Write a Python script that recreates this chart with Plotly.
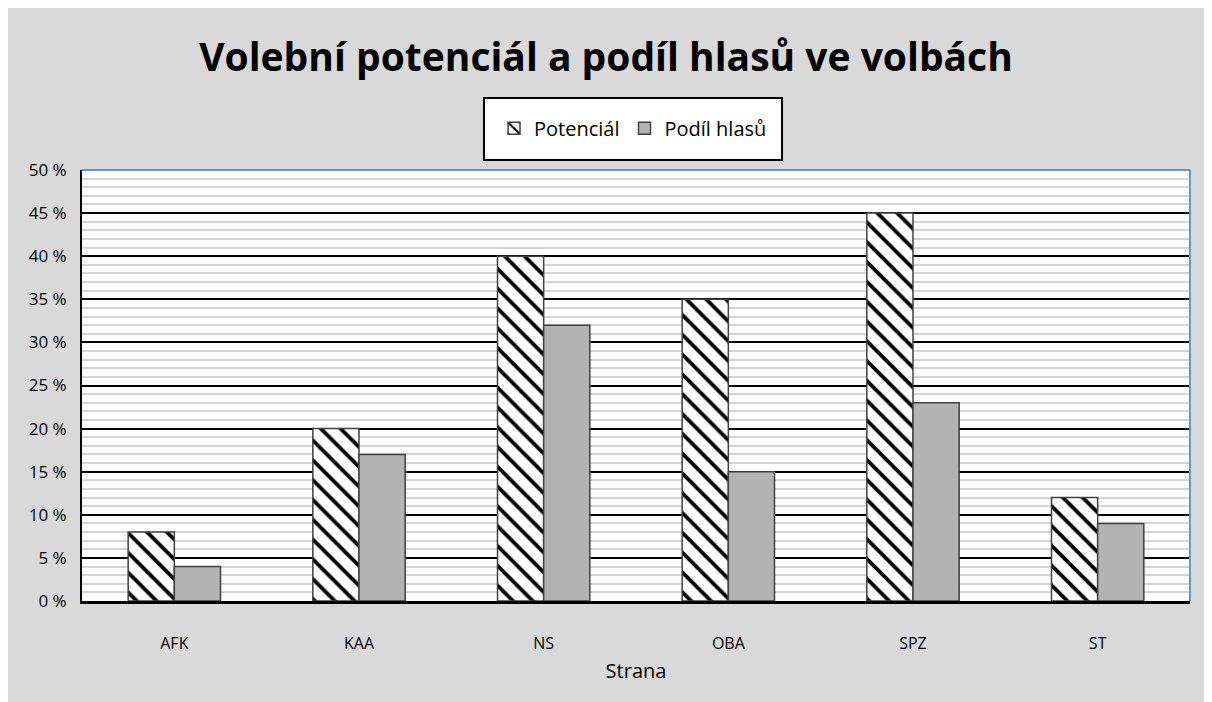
import plotly.graph_objects as go

categories = ["AFK", "KAA", "NS", "OBA", "SPZ", "ST"]
potencial = [8, 20, 40, 35, 45, 12]
podil = [4, 17, 32, 15, 23, 9]
y_ticks = [0, 5, 10, 15, 20, 25, 30, 35, 40, 45, 50]
y_labels = [f"{v} %" for v in y_ticks]

fig = go.Figure()
fig.add_trace(go.Bar(
    x=categories, y=potencial, name="Potenciál",
    marker=dict(color="white", line=dict(color="#404040", width=1.5),
                pattern=dict(shape="\\", fgcolor="black", bgcolor="white", fgopacity=1,
                             size=14, solidity=0.27)),
))
fig.add_trace(go.Bar(
    x=categories, y=podil, name="Podíl hlasů",
    marker=dict(color="#b3b3b3", line=dict(color="#404040", width=1.5)),
))

fig.update_layout(
    width=1212, height=702,
    paper_bgcolor="#d9d9d9",
    plot_bgcolor="white",
    barmode="group", bargap=0.5, bargroupgap=0,
    margin=dict(l=74, r=30, t=162, b=109),
    title=dict(text="<b>Volební potenciál a podíl hlasů ve volbách</b>",
               xref="container", x=598 / 1212, xanchor="center", y=1 - 49 / 702, yanchor="middle",
               font=dict(family="Open Sans", size=39, color="black")),
    legend=dict(orientation="h", x=0.4973, xanchor="center", y=1.097, yanchor="middle",
                bgcolor="rgba(0,0,0,0)", borderwidth=0,
                font=dict(family="Open Sans", size=20, color="black"),
                itemwidth=30),
    font=dict(family="Open Sans", color="black"),
    shapes=[dict(type="rect", xref="paper", yref="paper", layer="below",
                 x0=0.3628, x1=0.6318, y0=1.023, y1=1.167,
                 fillcolor="white", line=dict(color="black", width=2))],
)
fig.update_xaxes(showline=True, linecolor="black", linewidth=2.5, ticks="",
                 tickfont=dict(size=16, color="black"), ticklabelstandoff=26,
                 title=dict(text="Strana", font=dict(size=20, color="black"), standoff=12),
                 mirror=False)
fig.update_yaxes(range=[0, 50], tickvals=y_ticks, ticktext=y_labels,
                 showline=True, linecolor="black", linewidth=2, zeroline=False,
                 showgrid=True, gridcolor="black", gridwidth=2,
                 minor=dict(dtick=1, showgrid=True, gridcolor="#d4d4d4", gridwidth=1.5),
                 tickfont=dict(size=17, color="black"), ticks="", ticklabelstandoff=10)
# blue top/right frame
fig.add_shape(type="line", xref="paper", yref="paper", x0=0, x1=1, y0=1, y1=1,
              line=dict(color="#5b9bd5", width=2))
fig.add_shape(type="line", xref="paper", yref="paper", x0=1, x1=1, y0=0, y1=1,
              line=dict(color="#5b9bd5", width=2))

fig.write_html("out.html")
